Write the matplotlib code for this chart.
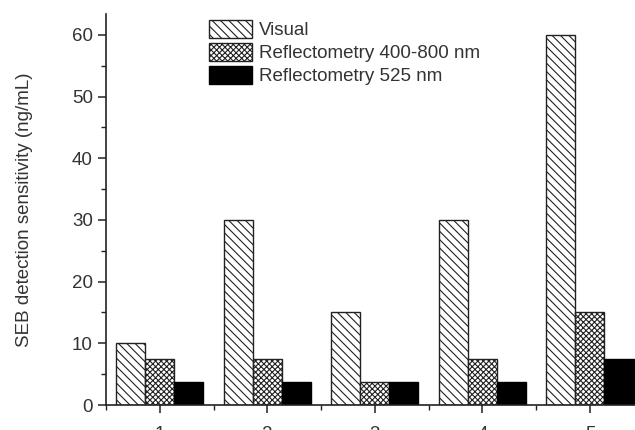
import matplotlib
matplotlib.use("Agg")
import matplotlib.pyplot as plt
import numpy as np
from matplotlib.ticker import MultipleLocator

categories = [1, 2, 3, 4, 5]
visual = [10, 30, 15, 30, 60]
refl_400_800 = [7.5, 7.5, 3.75, 7.5, 15]
refl_525 = [3.75, 3.75, 3.75, 3.75, 7.5]
series_names = ["Visual", "Reflectometry 400-800 nm", "Reflectometry 525 nm"]

plt.rcParams['font.family'] = ['Liberation Sans', 'DejaVu Sans']
plt.rcParams['hatch.linewidth'] = 0.8
txt = '#333333'

fig = plt.figure(figsize=(6.35, 4.3), dpi=100)
ax = fig.add_axes([106/635, 1 - 405/430, (643.75 - 106)/635, (405 - 14)/430])

x = np.array(categories, dtype=float)
w = 0.27
ax.bar(x - w, visual, w, facecolor='white', edgecolor='#222222', hatch='\\\\\\\\', linewidth=1.0, label=series_names[0])
ax.bar(x, refl_400_800, w, facecolor='white', edgecolor='#222222', hatch='xxxxxx', linewidth=1.0, label=series_names[1])
ax.bar(x + w, refl_525, w, facecolor='black', edgecolor='black', linewidth=1.0, label=series_names[2])

ax.set_xlim(0.5, 5.5)
ax.set_ylim(0, 63.4)
ax.spines['top'].set_visible(False)
ax.spines['right'].set_visible(False)
for s in ['left', 'bottom']:
    ax.spines[s].set_linewidth(1.2)
    ax.spines[s].set_color('#222222')

ax.set_xticks(categories)
ax.xaxis.set_minor_locator(MultipleLocator(1, offset=0.5))
ax.yaxis.set_major_locator(MultipleLocator(10))
ax.yaxis.set_minor_locator(MultipleLocator(5))
ax.tick_params(axis='both', which='major', direction='out', length=6, width=1.1, color='#222222', labelsize=13.5, labelcolor=txt)
ax.tick_params(axis='both', which='minor', direction='out', length=3.5, width=1.0, color='#222222')
ax.tick_params(axis='x', which='major', pad=9)

ax.set_ylabel('SEB detection sensitivity (ng/mL)', fontsize=13.5, color=txt, labelpad=28)

leg = ax.legend(loc='upper left', bbox_to_anchor=((201 - 106)/(643.75 - 106), 1.005), frameon=False,
                fontsize=13.5, handlelength=2.3, handleheight=1.15, handletextpad=0.4, labelspacing=0.18,
                borderaxespad=0)
for t in leg.get_texts():
    t.set_color(txt)

fig.savefig('out.png', dpi=100)
